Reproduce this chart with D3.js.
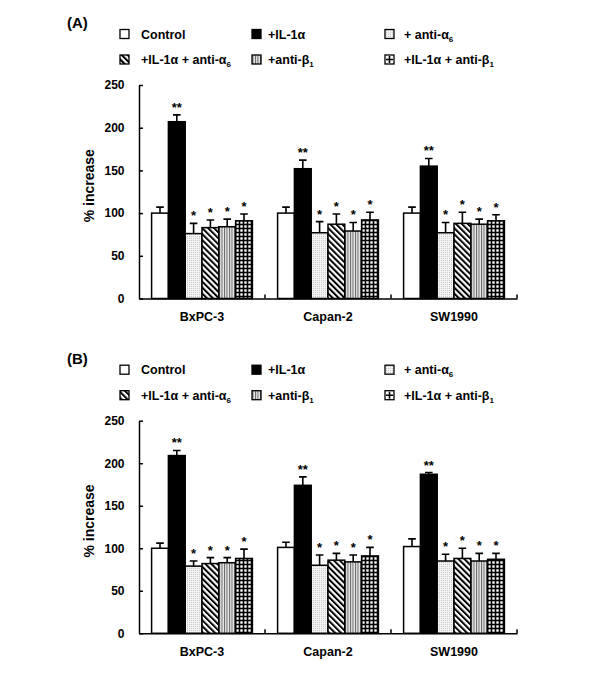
<!DOCTYPE html>
<html>
<head>
<meta charset="utf-8">
<script src="https://cdn.jsdelivr.net/npm/d3@7"></script>
<style>
  body { margin: 0; background: #fff; }
  text { font-family: "Liberation Sans", Arial, sans-serif; font-weight: bold; fill: #000; }
</style>
</head>
<body>
<script>
// ---------- data ----------
const categories = ["BxPC-3", "Capan-2", "SW1990"];
const seriesKeys = ["control", "il1", "antiA6", "il1AntiA6", "antiB1", "il1AntiB1"];
const stars = ["", "**", "*", "*", "*", "*"];
const yTicks = [0, 50, 100, 150, 200, 250];

// Panel A (rows = categories, cols = series)
const valuesA = [
  [100, 207, 76, 83, 84, 91],
  [100, 152, 77, 87, 79, 92],
  [100, 155, 77, 88, 87, 91]
];
const errorsA = [
  [7, 8, 12, 9, 9, 8],
  [7, 10, 13, 12, 10, 9],
  [7, 9, 12, 13, 6, 7]
];
// Panel B
const valuesB = [
  [100, 209, 79, 82, 83, 88],
  [101, 174, 80, 86, 84, 91],
  [102, 187, 85, 88, 85, 87]
];
const errorsB = [
  [6, 6, 6, 7, 6, 11],
  [6, 10, 12, 8, 8, 10],
  [9, 2, 8, 12, 9, 7]
];

// legend labels: [main text, subscript]
const legendLabels = [
  ["Control", ""],
  ["+IL-1\u03b1", ""],
  ["+ anti-\u03b1", "6"],
  ["+IL-1\u03b1 + anti-\u03b1", "6"],
  ["+anti-\u03b2", "1"],
  ["+IL-1\u03b1 + anti-\u03b2", "1"]
];

// ---------- drawing ----------
const W = 600, H = 673;
const svg = d3.select("body").append("svg").attr("width", W).attr("height", H);
const defs = svg.append("defs");

// patterns
const pStip = defs.append("pattern").attr("id", "p-antiA6").attr("patternUnits", "userSpaceOnUse")
  .attr("width", 2).attr("height", 2);
pStip.append("rect").attr("width", 2).attr("height", 2).attr("fill", "#f4f4f4");
pStip.append("rect").attr("width", 1).attr("height", 1).attr("fill", "#c8c8c8");

const pHatch = defs.append("pattern").attr("id", "p-il1AntiA6").attr("patternUnits", "userSpaceOnUse")
  .attr("width", 4.2).attr("height", 4.2).attr("patternTransform", "rotate(-45)");
pHatch.append("rect").attr("width", 4.2).attr("height", 4.2).attr("fill", "#fff");
pHatch.append("rect").attr("width", 2).attr("height", 4.2).attr("fill", "#000");

const pVert = defs.append("pattern").attr("id", "p-antiB1").attr("patternUnits", "userSpaceOnUse")
  .attr("width", 2.5).attr("height", 3);
pVert.append("rect").attr("width", 2.5).attr("height", 3).attr("fill", "#e8e8e8");
pVert.append("rect").attr("width", 1).attr("height", 3).attr("fill", "#666");

const pCheck = defs.append("pattern").attr("id", "p-il1AntiB1").attr("patternUnits", "userSpaceOnUse")
  .attr("width", 4).attr("height", 4);
pCheck.append("rect").attr("width", 4).attr("height", 4).attr("fill", "#000");
pCheck.append("rect").attr("x", 1.3).attr("y", 1.3).attr("width", 2.4).attr("height", 2.4).attr("fill", "#fff");

const fills = {
  control: "#fff",
  il1: "#000",
  antiA6: "url(#p-antiA6)",
  il1AntiA6: "url(#p-il1AntiA6)",
  antiB1: "url(#p-antiB1)",
  il1AntiB1: "url(#p-il1AntiB1)"
};

const plotLeft = 139, plotRight = 517;

function drawPanel(label, top, bottom, values, errors) {
  const g = svg.append("g");
  const x0 = d3.scaleBand().domain(categories).range([plotLeft, plotRight]).padding(0);
  const x1 = d3.scaleBand().domain(seriesKeys).range([0, x0.bandwidth()])
    .paddingInner(0).paddingOuter(0.75);
  const y = d3.scaleLinear().domain([0, 250]).range([bottom, top]);

  // panel label
  g.append("text").attr("x", 67).attr("y", top - 62).attr("dy", "0.35em")
    .attr("font-size", 15).text(label);

  // legend
  const colSq = [120, 252, 385], colTx = [141, 268, 404];
  const rowY = [top - 51, top - 25.5];
  seriesKeys.forEach((k, i) => {
    const col = i % 3, row = Math.floor(i / 3);
    const cy = rowY[row];
    const lg = g.append("g");
    lg.append("rect").attr("x", colSq[col]).attr("y", cy - 4.5).attr("width", 9).attr("height", 9)
      .attr("fill", k === "il1AntiB1" ? "#fff" : fills[k]).attr("stroke", "#000").attr("stroke-width", 1.3);
    if (k === "il1AntiB1") {
      lg.append("path").attr("d", `M${colSq[col] + 1},${cy} H${colSq[col] + 8} M${colSq[col] + 4.5},${cy - 3.5} V${cy + 3.5}`)
        .attr("stroke", "#000").attr("stroke-width", 1.6);
    }
    const t = lg.append("text").attr("x", colTx[col]).attr("y", cy).attr("dy", "0.36em")
      .attr("font-size", 12.5);
    t.append("tspan").text(legendLabels[i][0]);
    if (legendLabels[i][1]) {
      t.append("tspan").attr("font-size", 8).attr("dy", 3).text(legendLabels[i][1]);
    }
  });

  // bars
  categories.forEach((c, ci) => {
    const cg = g.append("g").attr("transform", `translate(${x0(c)},0)`);
    seriesKeys.forEach((k, si) => {
      const v = values[ci][si], e = errors[ci][si];
      const bx = x1(k), bw = x1.bandwidth();
      const cx = bx + bw / 2;
      // error bar (upward)
      cg.append("path")
        .attr("d", `M${cx},${y(v)} V${y(v + e)} M${cx - 3.8},${y(v + e)} H${cx + 3.8}`)
        .attr("stroke", "#000").attr("stroke-width", 1.6).attr("fill", "none");
      cg.append("rect").attr("x", bx).attr("y", y(v)).attr("width", bw).attr("height", y(0) - y(v))
        .attr("fill", fills[k]).attr("stroke", "#000").attr("stroke-width", 1.5);
      if (stars[si]) {
        cg.append("text").attr("x", cx).attr("y", y(v + e) - 3).attr("text-anchor", "middle")
          .attr("font-size", 13).text(stars[si]);
      }
    });
  });

  // y axis
  const yAxis = d3.axisLeft(y).tickValues(yTicks).tickSizeInner(-4).tickSizeOuter(0).tickPadding(14.5);
  const ya = g.append("g").attr("transform", `translate(${plotLeft},0)`).call(yAxis);
  ya.select(".domain").attr("stroke", "#000").attr("stroke-width", 1.5);
  ya.selectAll(".tick line").attr("stroke", "#000").attr("stroke-width", 1.5);
  ya.selectAll(".tick text").attr("font-size", 12).attr("font-family", "Liberation Sans, Arial, sans-serif")
    .attr("font-weight", "bold");

  // x axis
  const xAxis = d3.axisBottom(x0).tickSize(0).tickPadding(13.5);
  const xa = g.append("g").attr("transform", `translate(0,${bottom})`).call(xAxis);
  xa.select(".domain").attr("stroke", "#000").attr("stroke-width", 1.5);
  xa.selectAll(".tick text").attr("font-size", 12.5).attr("font-family", "Liberation Sans, Arial, sans-serif")
    .attr("font-weight", "bold");
  // category boundary ticks (pointing up)
  xa.selectAll(".sep").data(categories).enter().append("line").attr("class", "sep")
    .attr("x1", d => x0(d) + x0.bandwidth()).attr("x2", d => x0(d) + x0.bandwidth())
    .attr("y1", 0).attr("y2", -4).attr("stroke", "#000").attr("stroke-width", 1.5);

  // y title
  g.append("text").attr("transform", `translate(89,${(top + bottom) / 2 - 6}) rotate(-90)`)
    .attr("text-anchor", "middle").attr("dy", "0.35em").attr("font-size", 14).text("% increase");
}

drawPanel("(A)", 85, 298.5, valuesA, errorsA);
drawPanel("(B)", 420.7, 633.3, valuesB, errorsB);
</script>
</body>
</html>
